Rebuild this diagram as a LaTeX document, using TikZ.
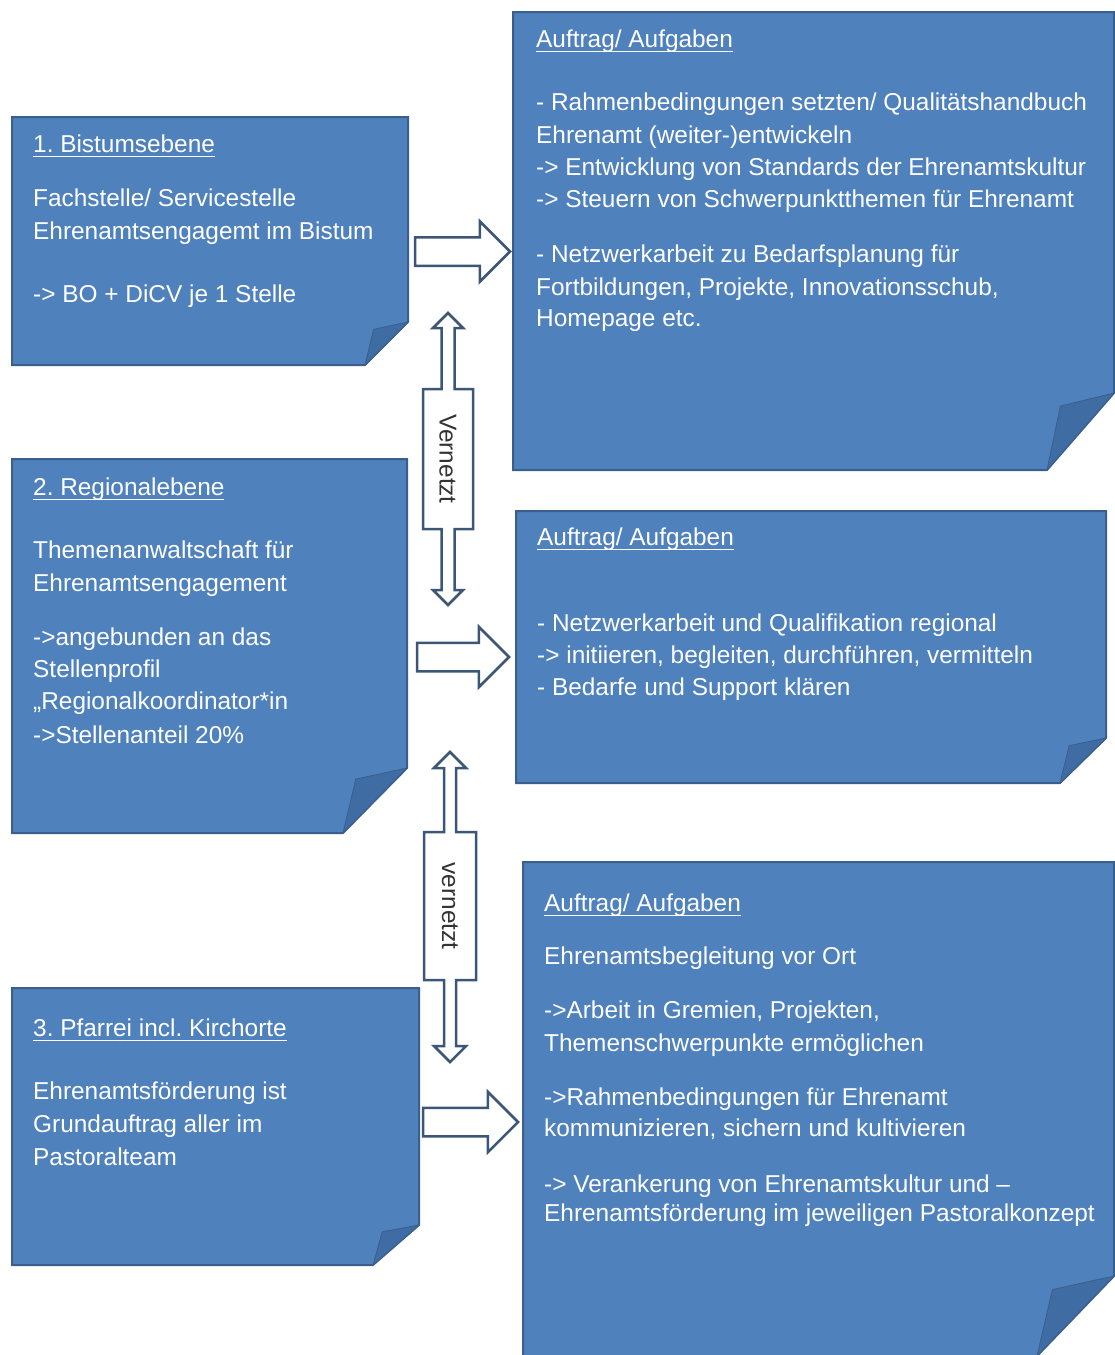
\documentclass[tikz,border=0pt]{standalone}
\usepackage{fontspec}
\setmainfont{Liberation Sans}
\usetikzlibrary{shapes.arrows}
\definecolor{boxblue}{HTML}{4F81BD}
\definecolor{boxedge}{HTML}{3A5F8C}
\definecolor{foldblue}{HTML}{3F6CA3}
\definecolor{arrowedge}{HTML}{3C5677}
\definecolor{labeltext}{HTML}{333333}
\newsavebox\ulbox
\newcommand\ulx[1]{\sbox\ulbox{#1}\rlap{\rule[-5pt]{\wd\ulbox}{1.5pt}}\usebox\ulbox}
\newcommand\notebox[3]{%
  \path[fill=boxblue, draw=boxedge, line width=2pt, line join=miter]
    (#1.north west) -- (#1.north east) -- ([yshift=#3pt]#1.south east)
    -- ([xshift=-#2pt]#1.south east) -- (#1.south west) -- cycle;
  \path[fill=foldblue, draw=boxedge, line width=0.8pt, line join=round]
    ([xshift=-#2pt]#1.south east) -- ([xshift=-0.8*#2pt, yshift=0.83*#3pt]#1.south east)
    -- ([yshift=#3pt]#1.south east) -- cycle;}
\tikzset{
  boxarea/.style={draw=none, inner sep=0pt, outer sep=0pt, anchor=north west},
  txt/.style={text=white, font=\fontsize{24.4}{30}\selectfont, inner sep=0pt, anchor=base west},
  harrow/.style={single arrow, draw=arrowedge, fill=white, line width=2.5pt, inner xsep=0pt, inner ysep=13pt,
    single arrow head extend=16pt, single arrow tip angle=90, anchor=tail, outer sep=0pt},
  blk/.style={draw=arrowedge, fill=white, line width=2.5pt, line join=miter},
  vbox/.style={draw=none, inner sep=0pt, outer sep=0pt},
  vlabel/.style={inner sep=0pt, outer sep=0pt, text=labeltext, font=\fontsize{24.4}{30}\selectfont},
}
\frenchspacing
\begin{document}
\frenchspacing
\begin{tikzpicture}[x=1pt, y=-1pt]
\fill[white] (0,0) rectangle (1115,1355);
\useasboundingbox (0,0) rectangle (1115,1355);

% boxes
\node[boxarea, minimum width=396, minimum height=248] (b1) at (12,117) {};
\node[boxarea, minimum width=601, minimum height=458] (r1) at (513,12) {};
\node[boxarea, minimum width=395, minimum height=374] (b2) at (12,459) {};
\node[boxarea, minimum width=590, minimum height=272] (r2) at (516,511) {};
\node[boxarea, minimum width=407, minimum height=277] (b3) at (12,988) {};
\node[boxarea, minimum width=591, minimum height=494] (r3) at (523,862) {};
\notebox{b1}{43}{43}
\notebox{r1}{67}{77}
\notebox{b2}{64}{65}
\notebox{r2}{46}{45}
\notebox{b3}{46}{40}
\notebox{r3}{77}{80}

% text box 1
\node[txt] (t1a) at (33,152) {\ulx{1. Bistumsebene}};
\node[txt] (t1b) at (33,206) {Fachstelle/ Servicestelle};
\node[txt] (t1c) at (33,239) {Ehrenamtsengagemt im Bistum};
\node[txt] (t1d) at (33,302) {-> BO + DiCV je 1 Stelle};

% text right 1
\node[txt] (u1a) at (536,47) {\ulx{Auftrag/ Aufgaben}};
\node[txt] (u1b) at (536,110) {- Rahmenbedingungen setzten/ Qualitätshandbuch};
\node[txt] (u1c) at (536,143) {Ehrenamt (weiter-)entwickeln};
\node[txt] (u1d) at (536,175) {-> Entwicklung von Standards der Ehrenamtskultur};
\node[txt] (u1e) at (536,207) {-> Steuern von Schwerpunktthemen für Ehrenamt};
\node[txt] (u1f) at (536,262) {- Netzwerkarbeit zu Bedarfsplanung für};
\node[txt] (u1g) at (536,295) {Fortbildungen, Projekte, Innovationsschub,};
\node[txt] (u1h) at (536,326) {Homepage etc.};

% text box 2
\node[txt] (t2a) at (33,495) {\ulx{2. Regionalebene}};
\node[txt] (t2b) at (33,558) {Themenanwaltschaft für};
\node[txt] (t2c) at (33,591) {Ehrenamtsengagement};
\node[txt] (t2d) at (33,645) {->angebunden an das};
\node[txt] (t2e) at (33,677) {Stellenprofil};
\node[txt] (t2f) at (33,709) {„Regionalkoordinator*in};
\node[txt] (t2g) at (33,743) {->Stellenanteil 20\%};

% text right 2
\node[txt] (u2a) at (537,545) {\ulx{Auftrag/ Aufgaben}};
\node[txt] (u2b) at (537,631) {- Netzwerkarbeit und Qualifikation regional};
\node[txt] (u2c) at (537,663) {-> initiieren, begleiten, durchführen, vermitteln};
\node[txt] (u2d) at (537,695) {- Bedarfe und Support klären};

% text box 3
\node[txt] (t3a) at (33,1036) {\ulx{3. Pfarrei incl. Kirchorte}};
\node[txt] (t3b) at (33,1099) {Ehrenamtsförderung ist};
\node[txt] (t3c) at (33,1132) {Grundauftrag aller im};
\node[txt] (t3d) at (33,1165) {Pastoralteam};

% text right 3
\node[txt] (u3a) at (544,911) {\ulx{Auftrag/ Aufgaben}};
\node[txt] (u3b) at (544,964) {Ehrenamtsbegleitung vor Ort};
\node[txt] (u3c) at (544,1018) {->Arbeit in Gremien, Projekten,};
\node[txt] (u3d) at (544,1051) {Themenschwerpunkte ermöglichen};
\node[txt] (u3e) at (544,1105) {->Rahmenbedingungen für Ehrenamt};
\node[txt] (u3f) at (544,1136) {kommunizieren, sichern und kultivieren};
\node[txt] (u3g) at (544,1192) {-> Verankerung von Ehrenamtskultur und –};
\node[txt] (u3h) at (544,1221) {Ehrenamtsförderung im jeweiligen Pastoralkonzept};

% horizontal arrows
\node[harrow, minimum height=95pt] (a1) at (415,251.5) {};
\node[harrow, minimum height=92pt] (a2) at (417,657) {};
\node[harrow, minimum height=95pt] (a3) at (423,1122) {};

% vertical callout 1
\node[vbox, minimum width=50, minimum height=140] (v1) at (448,459) {};
\draw[blk] (v1.north west) -- ([xshift=-6.5pt]v1.north) -- ++(0,-61) -- ++(-8.5,0) -- ++(15,-15)
  -- ++(15,15) -- ++(-8.5,0) -- ++(0,61) -- (v1.north east) -- (v1.south east)
  -- ([xshift=6.5pt]v1.south) -- ++(0,61) -- ++(8.5,0) -- ++(-15,15) -- ++(-15,-15)
  -- ++(8.5,0) -- ++(0,-61) -- (v1.south west) -- cycle;
\node[vlabel] (v1t) at (v1.center) {\rotatebox{-90}{Vernetzt}};

% vertical callout 2
\node[vbox, minimum width=52, minimum height=148] (v2) at (450,906) {};
\draw[blk] (v2.north west) -- ([xshift=-6pt]v2.north) -- ++(0,-64) -- ++(-10,0) -- ++(16,-16)
  -- ++(16,16) -- ++(-10,0) -- ++(0,64) -- (v2.north east) -- (v2.south east)
  -- ([xshift=6pt]v2.south) -- ++(0,66) -- ++(10,0) -- ++(-16,16) -- ++(-16,-16)
  -- ++(10,0) -- ++(0,-66) -- (v2.south west) -- cycle;
\node[vlabel] (v2t) at (v2.center) {\rotatebox{-90}{vernetzt}};
\end{tikzpicture}
\end{document}
